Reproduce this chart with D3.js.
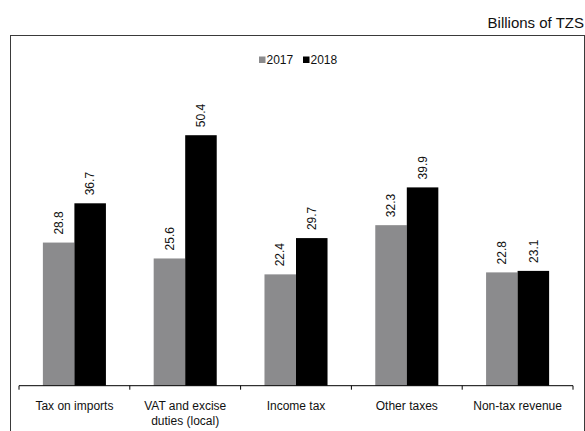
<!DOCTYPE html>
<html>
<head>
<meta charset="utf-8">
<script src="https://cdn.jsdelivr.net/npm/d3@7"></script>
<style>
  html, body { margin: 0; padding: 0; background: #fff; }
  svg { display: block; font-family: "Liberation Sans", Arial, sans-serif; }
</style>
</head>
<body>
<svg id="chart" width="585" height="431"></svg>
<script>
// Revenue categories and values (billions of TZS)
const categories = [
  ["Tax on imports"],
  ["VAT and excise", "duties (local)"],
  ["Income tax"],
  ["Other taxes"],
  ["Non-tax revenue"]
];
const seriesNames = ["2017", "2018"];
const values2017 = [28.8, 25.6, 22.4, 32.3, 22.8];
const values2018 = [36.7, 50.4, 29.7, 39.9, 23.1];
const seriesColors = ["#8b8b8d", "#000000"];
const unitLabel = "Billions of TZS";

const svg = d3.select("#chart");
const W = 585, H = 431;

// outer frame
svg.append("rect")
  .attr("x", 10.5).attr("y", 35.5)
  .attr("width", 574).attr("height", 420)
  .attr("fill", "none").attr("stroke", "#3a3a3a").attr("stroke-width", 1);

// unit caption
svg.append("text")
  .attr("x", 584).attr("y", 28)
  .attr("text-anchor", "end")
  .attr("font-size", 15)
  .attr("fill", "#111")
  .text(unitLabel);

const keys = categories.map((c, i) => i);
const x = d3.scaleBand().domain(keys).range([19, 573]).padding(0);
const groupWidth = x.bandwidth() * 0.569;
const xs = d3.scaleBand().domain(seriesNames).range([0, groupWidth]).padding(0);
const y = d3.scaleLinear().domain([0, 60]).range([385.7, 87.5]);

const data = keys.map(i => ({
  i,
  vals: [
    { s: "2017", v: values2017[i] },
    { s: "2018", v: values2018[i] }
  ]
}));

const groups = svg.append("g").selectAll("g")
  .data(data).join("g")
  .attr("transform", d => `translate(${x(d.i) + (x.bandwidth() - groupWidth) / 2},0)`);

groups.selectAll("rect")
  .data(d => d.vals).join("rect")
  .attr("x", d => xs(d.s))
  .attr("y", d => y(d.v))
  .attr("width", xs.bandwidth())
  .attr("height", d => y(0) - y(d.v))
  .attr("fill", (d, j) => seriesColors[j]);

// value labels, rotated
groups.selectAll("text.val")
  .data(d => d.vals).join("text")
  .attr("class", "val")
  .attr("transform", d => `translate(${xs(d.s) + xs.bandwidth() / 2},${y(d.v) - 8}) rotate(-90)`)
  .attr("dy", "0.35em")
  .attr("font-size", 12)
  .attr("fill", "#111")
  .text(d => d.v.toFixed(1));

// category axis
const axis = d3.axisBottom(x).tickSize(0).tickFormat("");
const axisG = svg.append("g").attr("transform", `translate(0,${y(0)})`).call(axis);
axisG.select(".domain").attr("stroke", "#000").attr("d", "M19,0H573");

// boundary ticks between categories
const bounds = keys.map(i => x(i)).concat([573]);
axisG.selectAll("line.bound")
  .data(bounds).join("line")
  .attr("class", "bound")
  .attr("x1", d => d).attr("x2", d => d)
  .attr("y1", 0).attr("y2", 4)
  .attr("stroke", "#000");

// category labels
const labels = svg.append("g").selectAll("text")
  .data(data).join("text")
  .attr("x", d => x(d.i) + x.bandwidth() / 2)
  .attr("y", 410)
  .attr("text-anchor", "middle")
  .attr("font-size", 12)
  .attr("fill", "#111");
labels.selectAll("tspan")
  .data(d => categories[d.i]).join("tspan")
  .attr("x", function () { return d3.select(this.parentNode).attr("x"); })
  .attr("dy", (d, k) => k === 0 ? 0 : 15)
  .text(d => d);

// legend
const legend = svg.append("g").attr("transform", "translate(259,0)");
const legendItems = [
  { name: seriesNames[0], color: seriesColors[0], dx: 0 },
  { name: seriesNames[1], color: seriesColors[1], dx: 44 }
];
const li = legend.selectAll("g").data(legendItems).join("g")
  .attr("transform", d => `translate(${d.dx},0)`);
li.append("rect")
  .attr("x", 0).attr("y", 56.5)
  .attr("width", 6.5).attr("height", 6.5)
  .attr("fill", d => d.color);
li.append("text")
  .attr("x", 7.5).attr("y", 63.5)
  .attr("font-size", 12)
  .attr("fill", "#111")
  .text(d => d.name);
</script>
</body>
</html>
